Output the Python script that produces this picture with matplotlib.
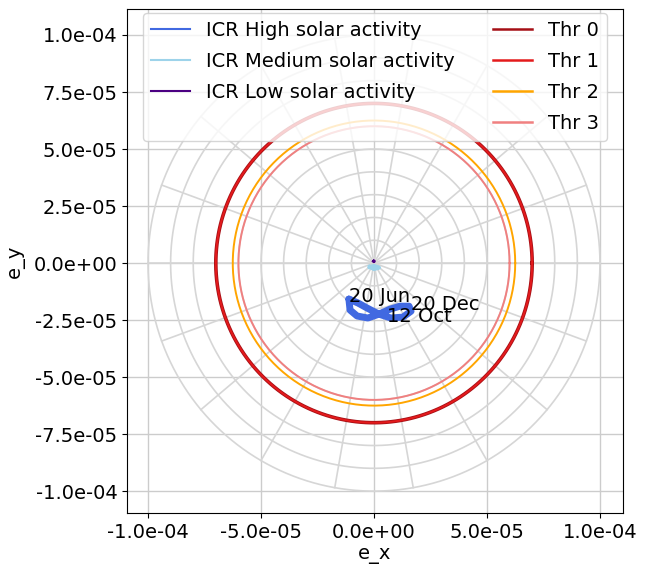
import numpy as np
import matplotlib.pyplot as plt
from matplotlib.lines import Line2D

# eccentricity vector of the ICR orbit over one year (high solar activity)
hi_x = [-1.11e-5, -0.71e-5, -0.31e-5, 0.22e-5, 0.71e-5, 1.15e-5, 1.55e-5, 1.64e-5,
        1.28e-5, 0.75e-5, 0.22e-5, -0.27e-5, -0.75e-5, -1.06e-5, -1.11e-5]
hi_y = [-1.58e-5, -1.75e-5, -1.97e-5, -2.24e-5, -2.02e-5, -1.89e-5, -1.89e-5, -2.11e-5,
        -2.37e-5, -2.41e-5, -2.24e-5, -2.41e-5, -2.32e-5, -2.06e-5, -1.58e-5]

# medium and low solar activity stay close to the origin
med_x = [-0.18e-5, 0.0, 0.22e-5, 0.0, -0.18e-5]
med_y = [-0.17e-5, -0.13e-5, -0.20e-5, -0.26e-5, -0.17e-5]
low_x = [-0.02e-5, 0.0, 0.02e-5, 0.0, -0.02e-5]
low_y = [0.08e-5, 0.10e-5, 0.08e-5, 0.06e-5, 0.08e-5]

# dates marked along the high activity curve
date_labels = ['20 Jun', '20 Dec', '12 Oct']
date_x = [-1.10e-5, 1.64e-5, 0.58e-5]
date_y = [-1.71e-5, -2.06e-5, -2.59e-5]

# eccentricity thresholds
thr_names = ['Thr 0', 'Thr 1', 'Thr 2', 'Thr 3']
thr_radius = [7.0e-5, 7.0e-5, 6.25e-5, 6.0e-5]
thr_colors = ['#a50f15', '#e41a1c', 'orange', 'lightcoral']
thr_widths = [2.6, 1.4, 1.4, 1.4]

grid_radii = np.arange(1, 11) * 1e-5
spoke_angles = np.deg2rad(np.arange(0, 360, 20))

fig = plt.figure(figsize=(6.54, 5.66), dpi=100)
ax = fig.add_axes([0.1942, 0.0936, 0.7584, 0.8905])

# polar helper grid
t = np.linspace(0, 2 * np.pi, 400)
for r in grid_radii:
    ax.plot(r * np.cos(t), r * np.sin(t), color='#d6d6d6', lw=1.2, zorder=1)
for a in spoke_angles:
    ax.plot([0, grid_radii[-1] * np.cos(a)], [0, grid_radii[-1] * np.sin(a)],
            color='#d6d6d6', lw=1.2, zorder=1)

ax.plot(hi_x, hi_y, color='royalblue', lw=5, solid_joinstyle='round',
        solid_capstyle='round', zorder=3)
ax.plot(med_x, med_y, color='#9dd3ea', lw=3, zorder=3)
ax.plot(low_x, low_y, color='indigo', lw=2, zorder=3)

for r, c, w in zip(thr_radius, thr_colors, thr_widths):
    ax.plot(r * np.cos(t), r * np.sin(t), color=c, lw=w, zorder=2)

for lab, x, y in zip(date_labels, date_x, date_y):
    ax.annotate(lab, (x, y), fontsize=14, zorder=4)

ax.set_xlim(-1.093e-4, 1.102e-4)
ax.set_ylim(-1.096e-4, 1.114e-4)
ax.set_xticks([-1e-4, -5e-5, 0, 5e-5, 1e-4])
ax.set_yticks(np.arange(-4, 5) * 2.5e-5)
ax.xaxis.set_major_formatter(plt.FormatStrFormatter('%.1e'))
ax.yaxis.set_major_formatter(plt.FormatStrFormatter('%.1e'))
ax.tick_params(labelsize=14)
ax.grid(True, color='#cccccc', lw=1)
ax.set_axisbelow(True)

ax.set_xlabel('e_x', fontsize=14, labelpad=2)
ax.set_ylabel('e_y', fontsize=14)
ax.yaxis.set_label_coords(-0.205, 0.5)

handles = [
    Line2D([], [], color='royalblue', lw=1.5),
    Line2D([], [], color='#9dd3ea', lw=1.5),
    Line2D([], [], color='indigo', lw=1.5),
    Line2D([], [], alpha=0),
]
labels = ['ICR High solar activity', 'ICR Medium solar activity',
          'ICR Low solar activity', '']
for name, c in zip(thr_names, thr_colors):
    handles.append(Line2D([], [], color=c, lw=1.8))
    labels.append(name)
ax.legend(handles, labels, ncol=2, loc='upper center', fontsize=14,
          labelspacing=0.62, borderaxespad=0.2)

fig.savefig('out.png', dpi=100)
